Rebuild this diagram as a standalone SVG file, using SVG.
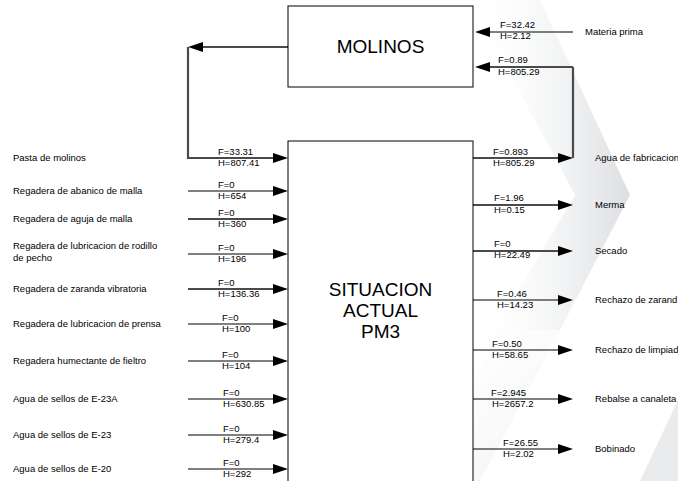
<svg xmlns="http://www.w3.org/2000/svg" width="678" height="481" viewBox="0 0 678 481">
<defs>
<linearGradient id="bg1" x1="0" y1="0" x2="1" y2="0">
<stop offset="0" stop-color="#ffffff" stop-opacity="0"/>
<stop offset="0.7" stop-color="#d9dcdf" stop-opacity="0.5"/>
<stop offset="1" stop-color="#c9cdd1" stop-opacity="0.65"/>
</linearGradient>
<linearGradient id="bg2" x1="0" y1="0" x2="1" y2="1">
<stop offset="0" stop-color="#ffffff" stop-opacity="0"/>
<stop offset="1" stop-color="#cfd3d6" stop-opacity="0.6"/>
</linearGradient>
<marker id="ah" markerUnits="userSpaceOnUse" markerWidth="15" markerHeight="10" refX="11" refY="5" orient="auto">
<path d="M0,0 L15,5 L0,10 z" fill="#000"/>
</marker>
</defs>
<style>
.box{fill:#fff;stroke:#000;stroke-width:1}
.big{font-family:"Liberation Sans",Arial,sans-serif;font-size:19px;fill:#000;text-anchor:middle}
.lbl{font-family:"Liberation Sans",Arial,sans-serif;font-size:9.5px;fill:#000}
.val{font-family:"Liberation Sans",Arial,sans-serif;font-size:9.5px;fill:#000}
.thin{fill:none;stroke:#000;stroke-width:1.2;marker-end:url(#ah)}
.thick{fill:none;stroke:#4a4a4a;stroke-width:2.2;marker-end:url(#ah)}
.plain{fill:none;stroke:#4a4a4a;stroke-width:2.2}
</style>
<rect width="678" height="481" fill="#fff"/>
<g id="background">
<polygon points="470,0 540,0 630,195 560,330 495,330 575,195" fill="url(#bg1)"/>
<polygon points="500,330 560,330 480,481 420,481" fill="url(#bg2)" opacity="0.6"/>
<polygon points="640,481 678,400 678,481" fill="#d5d8db" opacity="0.5"/>
</g>

<g id="connectors">
<path class="thin" d="M573,32 H479"/>
<path class="plain" d="M573,158 V67"/>
<path class="thick" d="M573,67 H479"/>
<path class="thick" d="M288,47 H192"/>
<path class="plain" d="M188,47 V158"/>
<path class="thick" d="M187,158 H284"/>
<path class="thin" d="M188,191 H284"/>
<path class="thick" d="M188,219 H284"/>
<path class="thin" d="M188,254 H284"/>
<path class="thick" d="M188,289 H284"/>
<path class="thin" d="M188,324 H284"/>
<path class="thin" d="M188,361 H284"/>
<path class="thin" d="M188,399 H284"/>
<path class="thin" d="M188,435 H284"/>
<path class="thin" d="M188,469 H284"/>
<path class="thick" d="M473,158 H569"/>
<path class="thick" d="M473,205 H569"/>
<path class="thick" d="M473,251 H569"/>
<path class="thin" d="M473,300 H569"/>
<path class="thin" d="M473,350 H569"/>
<path class="thin" d="M473,399 H569"/>
<path class="thin" d="M473,449 H569"/>
</g>

<g id="molinos">
<rect class="box" x="288" y="6" width="185" height="81"/>
<text class="big" x="380.5" y="53">MOLINOS</text>
</g>

<g id="situacion">
<rect class="box" x="288" y="141" width="185" height="345"/>
<text class="big" x="380.5" y="296">SITUACION</text>
<text class="big" x="380.5" y="317">ACTUAL</text>
<text class="big" x="380.5" y="338">PM3</text>
</g>

<g id="flow-values">
<text class="val" x="500" y="28">F=32.42</text>
<text class="val" x="500" y="39">H=2.12</text>
<text class="val" x="498" y="63">F=0.89</text>
<text class="val" x="498" y="75">H=805.29</text>

<text class="val" x="218" y="155">F=33.31</text>
<text class="val" x="218" y="166">H=807.41</text>
<text class="val" x="218" y="188">F=0</text>
<text class="val" x="218" y="199">H=654</text>
<text class="val" x="218" y="216">F=0</text>
<text class="val" x="218" y="227">H=360</text>
<text class="val" x="218" y="251">F=0</text>
<text class="val" x="218" y="262">H=196</text>
<text class="val" x="218" y="286">F=0</text>
<text class="val" x="218" y="297">H=136.36</text>
<text class="val" x="222" y="321">F=0</text>
<text class="val" x="222" y="332">H=100</text>
<text class="val" x="222" y="358">F=0</text>
<text class="val" x="222" y="369">H=104</text>
<text class="val" x="223" y="396">F=0</text>
<text class="val" x="223" y="407">H=630.85</text>
<text class="val" x="223" y="432">F=0</text>
<text class="val" x="223" y="443">H=279.4</text>
<text class="val" x="223" y="466">F=0</text>
<text class="val" x="223" y="477">H=292</text>

<text class="val" x="493" y="155">F=0.893</text>
<text class="val" x="493" y="166">H=805.29</text>
<text class="val" x="494" y="201">F=1.96</text>
<text class="val" x="494" y="213">H=0.15</text>
<text class="val" x="494" y="247">F=0</text>
<text class="val" x="494" y="258">H=22.49</text>
<text class="val" x="497" y="296.5">F=0.46</text>
<text class="val" x="497" y="307.5">H=14.23</text>
<text class="val" x="492" y="347">F=0.50</text>
<text class="val" x="492" y="358">H=58.65</text>
<text class="val" x="491" y="396">F=2.945</text>
<text class="val" x="492" y="407">H=2657.2</text>
<text class="val" x="503" y="446">F=26.55</text>
<text class="val" x="503" y="457">H=2.02</text>
</g>

<g id="inputs">
<text class="lbl" x="585" y="35">Materia prima</text>
<text class="lbl" x="13" y="161">Pasta de molinos</text>
<text class="lbl" x="13" y="194">Regadera de abanico de malla</text>
<text class="lbl" x="13" y="222">Regadera de aguja de malla</text>
<text class="lbl" x="13" y="249">Regadera de lubricacion de rodillo</text>
<text class="lbl" x="13" y="261">de pecho</text>
<text class="lbl" x="13" y="292">Regadera de zaranda vibratoria</text>
<text class="lbl" x="13" y="327">Regadera de lubricacion de prensa</text>
<text class="lbl" x="13" y="364">Regadera humectante de fieltro</text>
<text class="lbl" x="13" y="402">Agua de sellos de E-23A</text>
<text class="lbl" x="13" y="438">Agua de sellos de E-23</text>
<text class="lbl" x="13" y="472">Agua de sellos de E-20</text>
</g>

<g id="outputs">
<text class="lbl" x="595" y="161">Agua de fabricacion</text>
<text class="lbl" x="595" y="208">Merma</text>
<text class="lbl" x="595" y="254">Secado</text>
<text class="lbl" x="595" y="303">Rechazo de zarand</text>
<text class="lbl" x="595" y="353">Rechazo de limpiad</text>
<text class="lbl" x="595" y="402">Rebalse a canaleta</text>
<text class="lbl" x="595" y="452">Bobinado</text>
</g>
</svg>
